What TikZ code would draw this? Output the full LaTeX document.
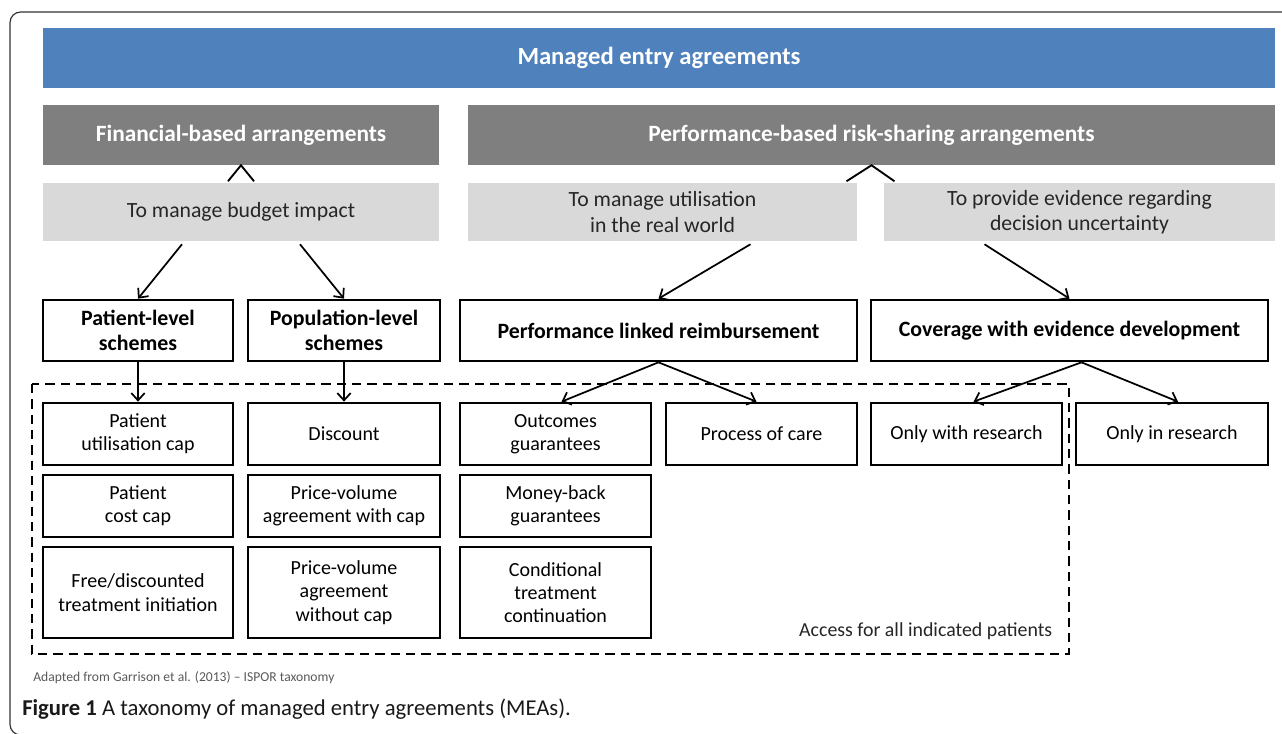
\documentclass[tikz,border=0pt]{standalone}
\usepackage{fontspec}
\setmainfont{Carlito}
\usetikzlibrary{arrows.meta,calc}
\definecolor{mblue}{HTML}{4F81BD}
\definecolor{dgray}{HTML}{7F7F7F}
\definecolor{lgray}{HTML}{D9D9D9}
\definecolor{txtgray}{HTML}{262626}
\definecolor{notegray}{HTML}{595959}
\definecolor{framegray}{HTML}{333333}
\tikzset{
  bar/.style={inner sep=0pt, align=center, font=\fontsize{16.3}{19}\selectfont},
  bluebar/.style={bar, fill=mblue, text=white, font=\fontsize{18.5}{21}\selectfont\bfseries},
  darkbar/.style={bar, fill=dgray, text=white, font=\fontsize{17.5}{20}\selectfont\bfseries},
  lightbar/.style={bar, fill=lgray, text=txtgray},
  box/.style={draw=black, line width=2pt, inner sep=0pt, align=center, font=\fontsize{15}{17.5}\selectfont},
  hbox/.style={box, font=\fontsize{16.4}{19}\selectfont\bfseries},
  arr/.style={draw=black, line width=1.3pt, -{Straight Barb[length=5.5pt,width=10pt,line width=1.3pt]}},
  caret/.style={draw=black, line width=1.4pt},
  frame/.style={draw=framegray, line width=0.9pt, rounded corners=8pt},
  dashbox/.style={draw=black, line width=1.4pt, dash pattern=on 7pt off 4.5pt}
}
\newcommand\bx[7]{\node[#1, minimum width={(#4-#2)*0.75pt}, minimum height={(#5-#3)*0.75pt}] (#6) at ({(#2+#4)/2},{(#3+#5)/2}) {#7};}
\begin{document}
\begin{tikzpicture}[x=0.75pt,y=-0.75pt]
\useasboundingbox (0,0) rectangle (1282,734);
\draw[frame] (10,12) rectangle (1300,735);

% headers
\bx{bluebar}{43}{28}{1275}{88}{mea}{Managed entry agreements}
\bx{darkbar}{43}{105}{439}{165}{fin}{Financial-based arrangements}
\bx{darkbar}{468}{105}{1275}{165}{perf}{Performance-based risk-sharing arrangements}
\bx{lightbar}{43}{183}{439}{241}{budget}{To manage budget impact}
\bx{lightbar}{468}{183}{857}{241}{util}{To manage utilisation\\in the real world}
\bx{lightbar}{884}{183}{1275}{241}{evid}{To provide evidence regarding\\decision uncertainty}

% carets
\draw[caret] ($(fin.south)+(-13,16)$) -- (fin.south) -- ($(fin.south)+(13,16)$);
\draw[caret] ($(perf.south)+(-25,16)$) -- (perf.south) -- ($(perf.south)+(23,16)$);

% dashed area
\draw[dashbox] (32,384) rectangle (1069,654);
\node[anchor=east, text=txtgray, font=\fontsize{14.9}{17}\selectfont] (access) at (1057,631) {Access for all indicated patients};

% level boxes
\bx{hbox}{43}{300}{233}{361}{pls}{Patient-level\\schemes}
\bx{hbox}{248}{300}{440}{361}{popls}{Population-level\\schemes}
\bx{hbox}{460}{300}{857}{361}{plr}{Performance linked reimbursement}
\bx{hbox}{871}{300}{1268}{361}{ced}{Coverage with evidence development}

% detail boxes
\bx{box}{43}{403}{233}{465}{puc}{Patient\\utilisation cap}
\bx{box}{43}{475}{233}{537}{pcc}{Patient\\cost cap}
\bx{box}{43}{547}{233}{638}{fdt}{Free/discounted\\treatment initiation}
\bx{box}{248}{403}{440}{465}{disc}{Discount}
\bx{box}{248}{475}{440}{537}{pvw}{Price-volume\\agreement with cap}
\bx{box}{248}{547}{440}{638}{pvwo}{Price-volume\\agreement\\without cap}
\bx{box}{460}{403}{651}{465}{og}{Outcomes\\guarantees}
\bx{box}{460}{475}{651}{537}{mbg}{Money-back\\guarantees}
\bx{box}{460}{547}{651}{638}{ctc}{Conditional\\treatment\\continuation}
\bx{box}{666}{403}{857}{465}{poc}{Process of care}
\bx{box}{871}{403}{1062}{465}{owr}{Only with research}
\bx{box}{1076}{403}{1268}{465}{oir}{Only in research}

% arrows
\draw[arr] ($(budget.south)+(-59,3)$) -- (pls.north);
\draw[arr] ($(budget.south)+(59,3)$) -- (popls.north);
\draw[arr] ($(util.south)+(88,3)$) -- (plr.north);
\draw[arr] ($(evid.south)+(-95,3)$) -- (ced.north);
\draw[arr] (pls.south) -- (puc.north);
\draw[arr] (popls.south) -- (disc.north);
\draw[arr] (plr.south) -- ($(og.north)+(6,0)$);
\draw[arr] (plr.south) -- ($(poc.north)+(-5,0)$);
\draw[arr] ($(ced.south)+(12,0)$) -- ($(owr.north)+(7,0)$);
\draw[arr] ($(ced.south)+(12,0)$) -- ($(oir.north)+(6,0)$);

% notes
\node[anchor=west, text=notegray, font=\fontsize{10.2}{12}\selectfont, inner sep=0pt] (src) at (33,678) {Adapted from Garrison et al. (2013) -- ISPOR taxonomy};
\node[anchor=west, text=black!90, font=\fontsize{17}{19}\selectfont, inner sep=0pt] (cap) at (22,709) {\textbf{Figure 1} A taxonomy of managed entry agreements (MEAs).};
\end{tikzpicture}
\end{document}
